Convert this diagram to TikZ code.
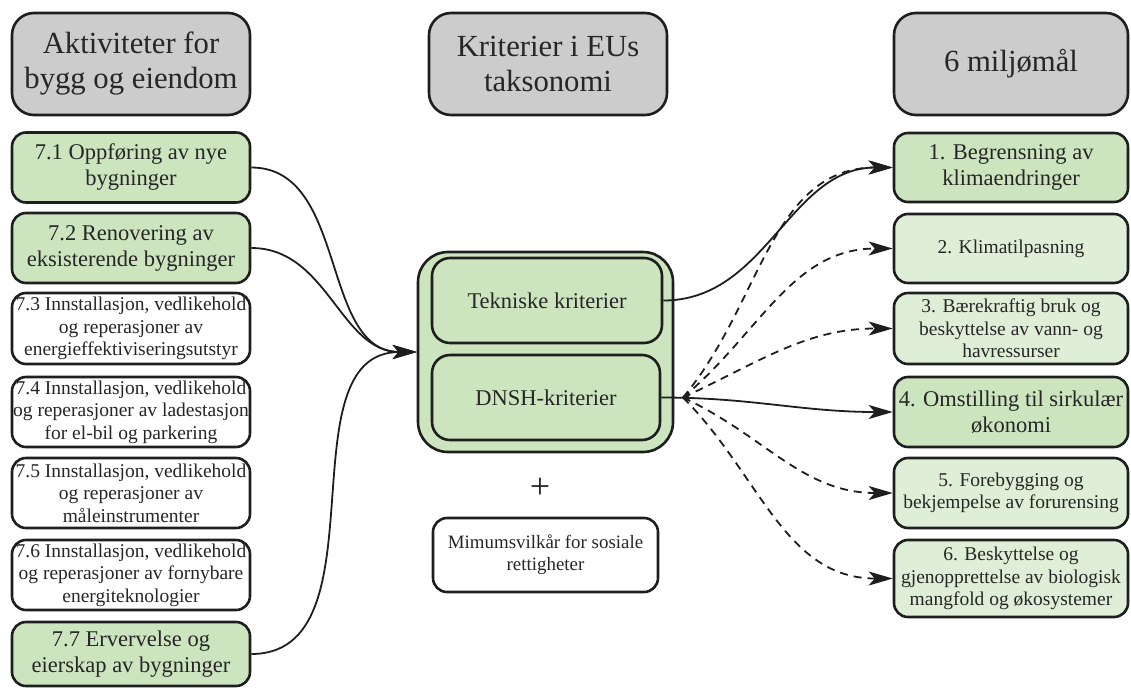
\documentclass[tikz,border=0pt]{standalone}
\usepackage{fontspec}
\setmainfont{Liberation Serif}
\usetikzlibrary{arrows.meta,decorations.markings}
\definecolor{hdrgray}{HTML}{CCCCCC}
\definecolor{keygreen}{HTML}{CCE5BF}
\definecolor{palegreen}{HTML}{DFEED6}
\definecolor{rim}{HTML}{1E1E1E}
\tikzset{>={Stealth[length=24pt,width=14pt,inset=6pt]},
  box/.style={draw=rim, line width=2.6pt, rounded corners=14pt, align=center,
    inner sep=0pt, text=black!85, minimum width=238pt, minimum height=70pt},
  header/.style={box, fill=hdrgray, rounded corners=22pt, minimum height=102pt,
    font=\fontsize{30.7}{35}\selectfont},
  keybox/.style={box, fill=keygreen, font=\fontsize{22.5}{26}\selectfont},
  palebox/.style={box, fill=palegreen, font=\fontsize{19.5}{22.5}\selectfont},
  plainbox/.style={box, fill=white, font=\fontsize{19.5}{22.5}\selectfont},
  link/.style={draw=rim, line width=1.8pt, ->},
  maybe/.style={link, dash pattern=on 8pt off 6pt}
}

\begin{document}
\begin{tikzpicture}[x=1pt,y=-1pt]
  \useasboundingbox (0,0) rectangle (1131,688);

  % aktiviteter
  \node[header] (hdrL) at (131,64) {Aktiviteter for\\bygg og eiendom};
  \node[keybox] (a71) at (131,167.5) {7.1 Oppføring av nye\\bygninger};
  \node[keybox] (a72) at (131,248) {7.2 Renovering av\\eksisterende bygninger};
  \node[plainbox, minimum height=71pt] (a73) at (131,328.5) {7.3 Innstallasjon, vedlikehold\\og reperasjoner av\\energieffektiviseringsutstyr};
  \node[plainbox] (a74) at (131,412) {7.4 Innstallasjon, vedlikehold\\og reperasjoner av ladestasjon\\for el-bil og parkering};
  \node[plainbox] (a75) at (131,493) {7.5 Innstallasjon, vedlikehold\\og reperasjoner av\\måleinstrumenter};
  \node[plainbox] (a76) at (131,575) {7.6 Innstallasjon, vedlikehold\\og reperasjoner av fornybare\\energiteknologier};
  \node[keybox, minimum height=64pt] (a77) at (131,654) {7.7 Ervervelse og\\eierskap av bygninger};

  % kriterier
  \node[header] (hdrC) at (548,64) {Kriterier i EUs\\taksonomi};
  \node[box, fill=keygreen, rounded corners=30pt, minimum width=255pt, minimum height=200pt] (crit) at (545.5,352) {};
  \node[keybox, rounded corners=18pt, minimum width=230pt, minimum height=85pt] (tek) at (547,300.5) {Tekniske kriterier};
  \node[keybox, rounded corners=18pt, minimum width=228pt, minimum height=85pt] (dnsh) at (546,397.5) {DNSH-kriterier};
  \node[font=\fontsize{36}{36}\selectfont, text=black!85] (plus) at (540,488) {+};
  \node[plainbox, font=\fontsize{18.9}{22}\selectfont, minimum width=225pt, minimum height=74pt] (mim) at (545.5,555) {Mimumsvilkår for sosiale\\rettigheter};

  % miljømål
  \node[header, minimum width=234pt] (hdrR) at (1011,64) {6 miljømål};
  \node[keybox, minimum width=234pt, minimum height=69pt] (m1) at (1011,167.5) {1. Begrensning av\\klimaendringer};
  \node[palebox, minimum width=234pt, minimum height=69pt] (m2) at (1011,248.5) {2. Klimatilpasning};
  \node[palebox, minimum width=234pt, minimum height=71pt] (m3) at (1011,328.5) {3. Bærekraftig bruk og\\beskyttelse av vann- og\\havressurser};
  \node[keybox, minimum width=234pt] (m4) at (1011,412) {4. Omstilling til sirkulær\\økonomi};
  \node[palebox, minimum width=234pt] (m5) at (1011,493) {5. Forebygging og\\bekjempelse av forurensing};
  \node[palebox, minimum width=234pt, minimum height=77pt] (m6) at (1011,578.5) {6. Beskyttelse og\\gjenopprettelse av biologisk\\mangfold og økosystemer};

  \coordinate (hub) at (683,397.5);

  % inn til kriteriene
  \draw[link] (a71.east) to[out=0,in=180] (crit.west);
  \draw[link] (a72.east) to[out=0,in=180] (crit.west);
  \draw[link] (a77.east) to[out=0,in=180] (crit.west);

  % ut til miljømålene
  \draw[link] (tek.east) to[out=0,in=180] (m1.west);
  \draw[link, postaction={decorate, decoration={markings,
      mark=at position 21pt with {\arrowreversed{Stealth[length=8pt,width=7pt]}}}}]
    (dnsh.east) to[out=0,in=180] (m4.west);
  \draw[maybe] (hub) to[out=50,in=180] (m1.west);
  \draw[maybe] (hub) to[out=40,in=180] (m2.west);
  \draw[maybe] (hub) to[out=25,in=180] (m3.west);
  \draw[maybe] (hub) to[out=-25,in=180] (m5.west);
  \draw[maybe] (hub) to[out=-45,in=180] (m6.west);
\end{tikzpicture}
\end{document}
